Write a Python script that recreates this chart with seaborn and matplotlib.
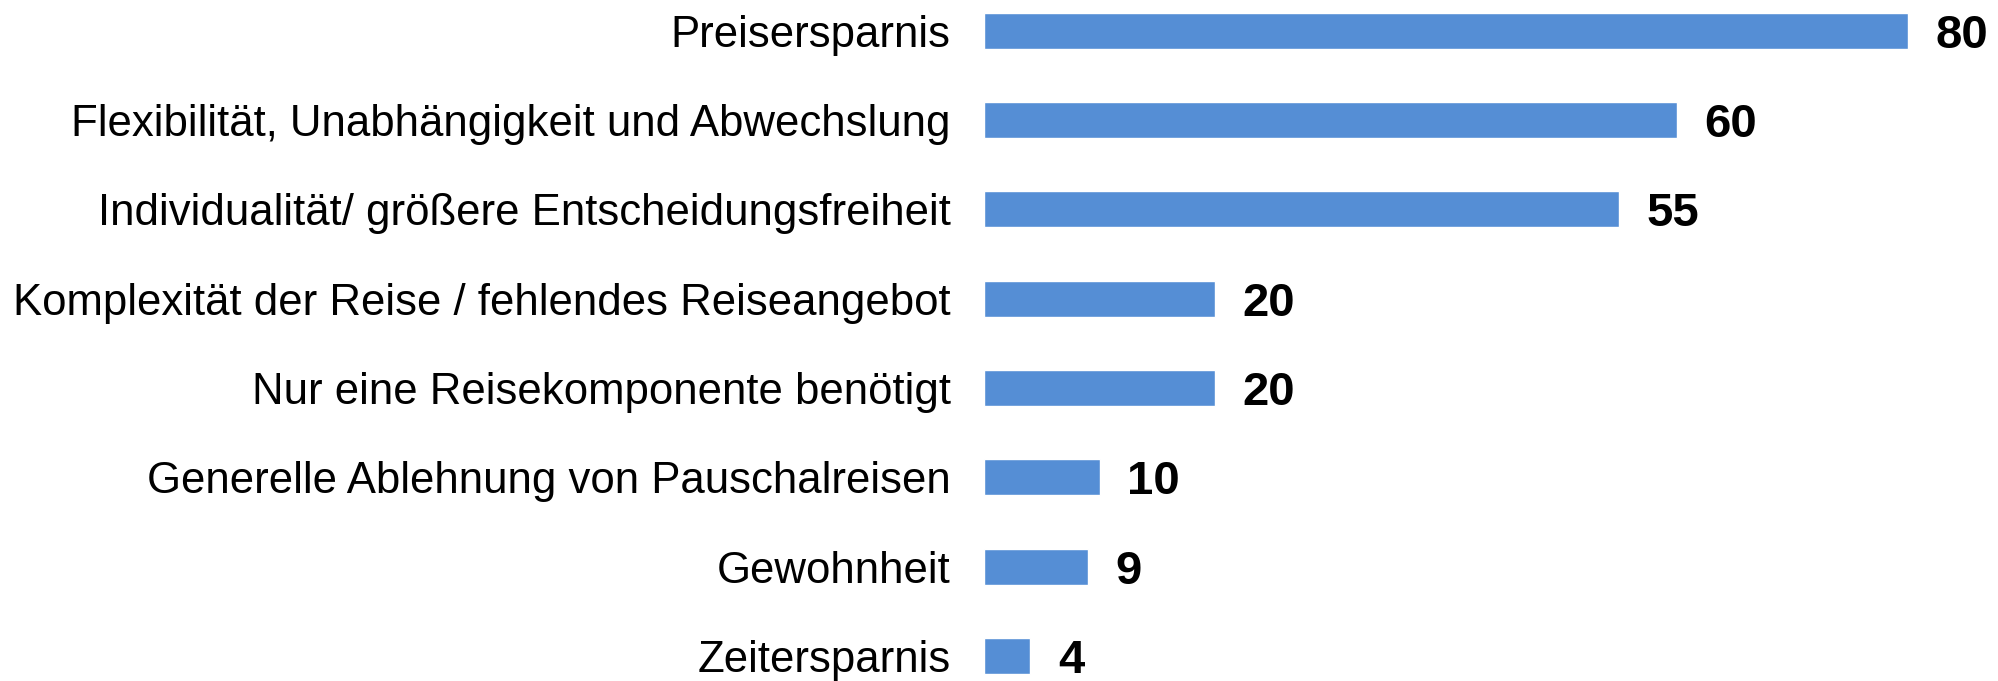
import matplotlib
matplotlib.use("Agg")
import matplotlib.pyplot as plt
import seaborn as sns
import pandas as pd

categories = [
    "Preisersparnis",
    "Flexibilität, Unabhängigkeit und Abwechslung",
    "Individualität/ größere Entscheidungsfreiheit",
    "Komplexität der Reise / fehlendes Reiseangebot",
    "Nur eine Reisekomponente benötigt",
    "Generelle Ablehnung von Pauschalreisen",
    "Gewohnheit",
    "Zeitersparnis",
]
values = [80, 60, 55, 20, 20, 10, 9, 4]

df = pd.DataFrame({"grund": categories, "wert": values})

sns.set_theme(style="white")
plt.rcParams["font.family"] = ["Liberation Sans", "DejaVu Sans"]

fig = plt.figure(figsize=(19.98, 6.81), dpi=100)
ax = fig.add_axes([0.4925, 0.0, 0.5075, 1.0])

sns.barplot(data=df, x="wert", y="grund", orient="h", color="#558ED5",
            saturation=1, width=0.4, ax=ax)

# value labels right of each bar
for i, v in enumerate(values):
    ax.annotate(str(v), xy=(v, i), xytext=(20, 0), textcoords="offset points",
                ha="left", va="center_baseline", fontsize=34, fontweight="bold",
                color="black")

ax.set_xlim(0, 87.8)
ax.set_ylim(7.28, -0.343)
ax.set_xlabel("")
ax.set_ylabel("")
ax.set_xticks([])
ax.tick_params(axis="y", length=0, pad=24, labelsize=31.5, labelcolor="black")
sns.despine(ax=ax, left=True, bottom=True)

fig.savefig("out.png", dpi=100)
